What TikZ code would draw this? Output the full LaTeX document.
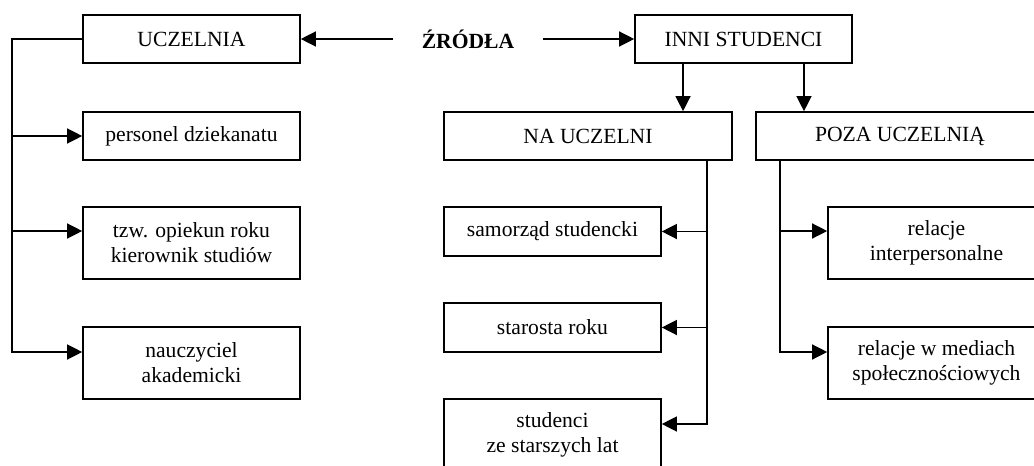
\documentclass[tikz,border=0pt]{standalone}
\usepackage{fontspec}
\setmainfont{Liberation Serif}
\usetikzlibrary{arrows.meta, positioning, calc}

\begin{document}
\begin{tikzpicture}[x=0.02cm, y=-0.02cm, line width=0.75pt,
  srcbox/.style={draw, line width=0.95pt, minimum width=4.34cm, minimum height=0.96cm,
    align=center, inner sep=2pt, font=\fontsize{12.3}{14.2}\selectfont},
  tallbox/.style={srcbox, minimum height=1.44cm},
  widebox/.style={srcbox, minimum width=5.76cm},
  arr/.style={-{Triangle[length=0.3cm, width=0.3cm]}}]
  \useasboundingbox (0,0) rectangle (1034,466);
  \clip (0,0) rectangle (1034,466);

  % Top row
  \node[srcbox] (uczelnia) at (191.5, 39) {UCZELNIA};
  \node[font=\bfseries\fontsize{12.3}{14.2}\selectfont, inner xsep=0.56cm] (zrodla) at (468, 39) {ŹRÓDŁA};
  \node[srcbox] (inni) at (743.5, 39) {INNI STUDENCI};

  % Left column
  \node[srcbox] (personel) at (191.5, 136) {personel dziekanatu};
  \node[tallbox] (opiekun) at (191.5, 243) {tzw. opiekun roku\\kierownik studiów};
  \node[tallbox] (nauczyciel) at (191.5, 363) {nauczyciel\\akademicki};

  % Middle column
  \node[widebox] (naucz) at (588, 136) {NA UCZELNI};
  \node[srcbox, minimum height=0.98cm] (samorzad) at (552.5, 231.5) {samorząd studencki};
  \node[srcbox, minimum height=0.98cm] (starosta) at (552.5, 327.5) {starosta roku};
  \node[tallbox] (studenci) at (552.5, 435) {studenci\\ze starszych lat};

  % Right column
  \node[widebox] (poza) at (900, 136) {POZA UCZELNIĄ};
  \node[tallbox] (inter) at (936.5, 243) {relacje\\interpersonalne};
  \node[tallbox] (mediach) at (936.5, 363) {relacje w mediach\\społecznościowych};

  % Attachment points
  \coordinate (opk) at ([yshift=0.24cm]opiekun.west);
  \coordinate (nk) at ([yshift=0.22cm]nauczyciel.west);
  \coordinate (stu) at ([yshift=0.22cm]studenci.east);
  \coordinate (int) at ([yshift=0.24cm]inter.west);
  \coordinate (med) at ([yshift=0.22cm]mediach.west);
  \coordinate (d1) at ([xshift=-1.21cm]inni.south);
  \coordinate (d2) at ([xshift=1.21cm]inni.south);
  \coordinate (lbus) at (12, 39);
  \coordinate (nbus) at (707, 160);
  \coordinate (pbus) at (780, 160);

  % Sources
  \draw[arr] (zrodla) -- (uczelnia);
  \draw[arr] (zrodla) -- (inni);
  \draw[arr] (d1) -- (d1 |- naucz.north);
  \draw[arr] (d2) -- (d2 |- poza.north);

  % University branch
  \draw[arr] (uczelnia.west) -- (lbus) |- (nk);
  \draw[arr] (lbus |- personel) -- (personel);
  \draw[arr] (lbus |- opk) -- (opk);

  % On-campus branch
  \draw[arr] (nbus) |- (stu);
  \draw[arr] (nbus |- samorzad) -- (samorzad);
  \draw[arr] (nbus |- starosta) -- (starosta);

  % Off-campus branch
  \draw[arr] (pbus) |- (med);
  \draw[arr] (pbus |- int) -- (int);
\end{tikzpicture}
\end{document}
